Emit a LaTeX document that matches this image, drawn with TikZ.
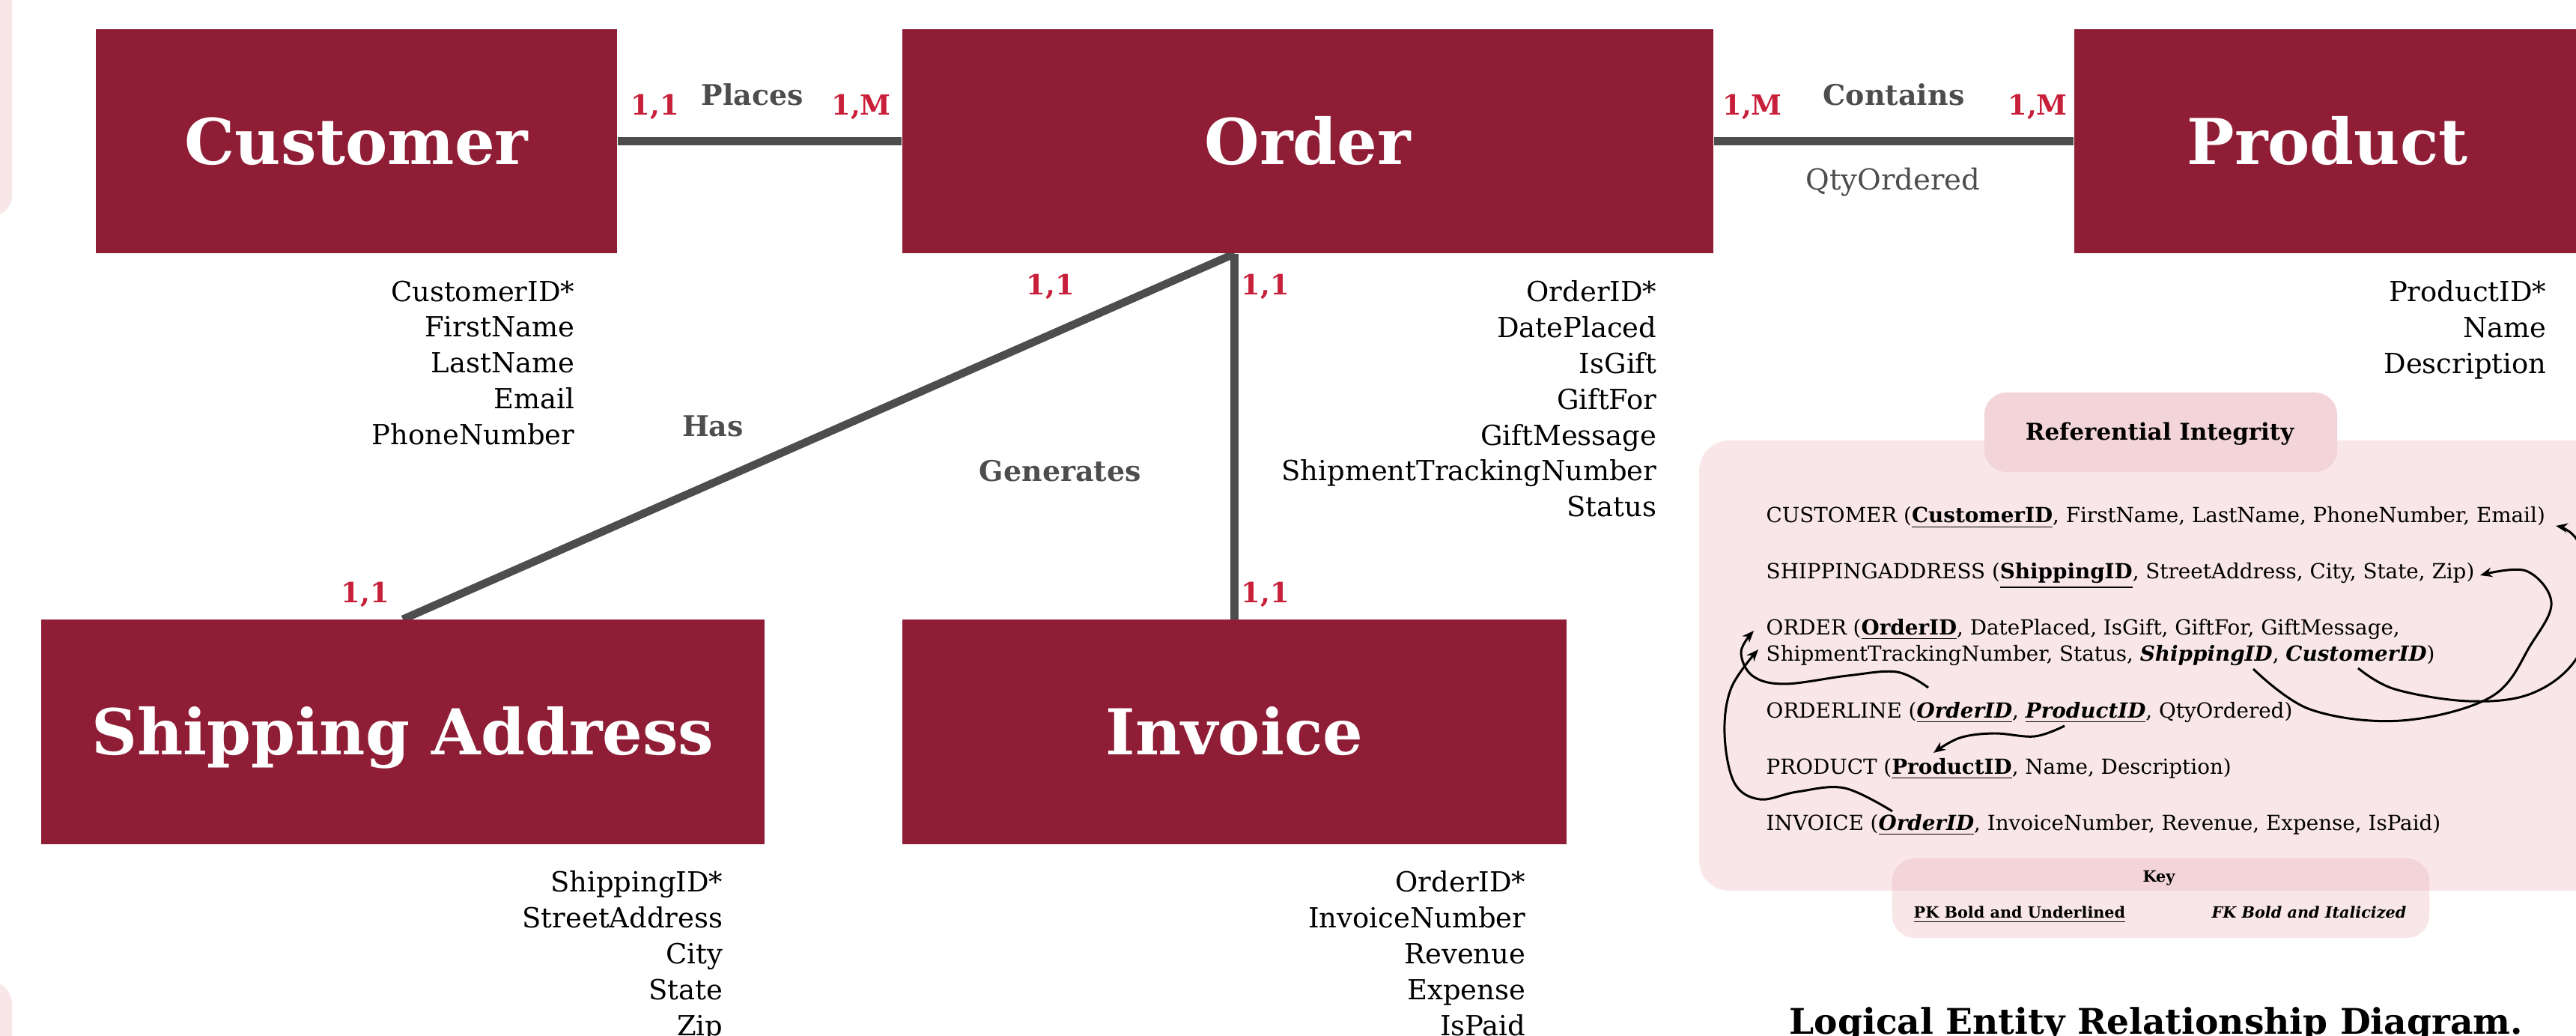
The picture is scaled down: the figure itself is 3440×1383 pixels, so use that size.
\documentclass[tikz,border=0pt]{standalone}
\usepackage{fontspec}
\setmainfont{DejaVu Serif}
\usepackage{xcolor}
\usetikzlibrary{positioning,arrows.meta,backgrounds}

\definecolor{maroon}{HTML}{8F1D36}
\definecolor{cardred}{HTML}{C8203A}
\definecolor{relgray}{HTML}{4D4D4D}
\definecolor{panelpink}{HTML}{F9E6E9}
\definecolor{tabpink}{HTML}{F2D4D9}
\definecolor{keypink}{RGB}{232,172,180}

% key markers used in the relational schema
\newcommand{\pk}[1]{\underline{\textbf{#1}}}
\newcommand{\fk}[1]{\textbf{\textit{#1}}}
\newcommand{\pkfk}[1]{\underline{\textbf{\textit{#1}}}}

\begin{document}
\begin{tikzpicture}[
            x=0.01cm, y=-0.01cm,
            entity/.style={fill=maroon, text=white, inner sep=0pt, minimum height=2.99cm,
                text height=17.5pt, text depth=0pt, font=\fontsize{24}{28}\selectfont\bfseries},
            card/.style={text=cardred, inner sep=0pt, anchor=base, font=\fontsize{10.5}{12}\selectfont\bfseries},
            rel/.style={text=relgray, inner sep=0pt, anchor=base, font=\fontsize{10.8}{13}\selectfont\bfseries},
            attr/.style={align=right, anchor=north east, inner sep=0pt, font=\fontsize{10.5}{13.6}\selectfont},
            link/.style={line width=3pt, draw=relgray},
            schema/.style={anchor=base west, inner sep=0pt, font=\fontsize{7.9}{10.2}\selectfont},
            keytext/.style={inner sep=0pt, font=\fontsize{5.9}{7}\selectfont},
            ref/.style={line width=0.85pt, -{Stealth[length=4.5pt, width=3.6pt]}},
            auto
        ]
            \useasboundingbox (0,0) rectangle (3440,1383);

            % Entities
            \node[entity, minimum width=6.96cm]  (customer) at (476,188.5)   {Customer};
            \node[entity, minimum width=10.83cm] (order)    at (1746.5,188.5) {Order};
            \node[entity, minimum width=6.76cm]  (product)  at (3108,188.5)  {Product};
            \node[entity, minimum width=9.66cm]  (shipping) at (538,977)     {Shipping Address};
            \node[entity, minimum width=8.87cm]  (invoice)  at (1648.5,977)  {Invoice};

            % Relationships (under the boxes)
            \begin{pgfonlayer}{background}
                \fill[panelpink, rounded corners=0.3cm] (-100,-100) rectangle (16,290);
                \fill[panelpink, rounded corners=0.3cm] (-100,1310) rectangle (16,1500);
                \draw[link] (customer) -- (order);   % Places
                \draw[link] (order) -- (product);    % Contains
                \draw[link] (invoice) -- (invoice |- order.south);        % Generates
                \draw[link] (shipping.north) -- (invoice |- order.south); % Has
            \end{pgfonlayer}

            % Cardinalities and verbs
            \node[card] (c1) at (875,154)  {1,1};
            \node[rel]  (places) at (1005,141) {Places};
            \node[card] (c2) at (1150,154) {1,M};
            \node[card] (c3) at (2340,154) {1,M};
            \node[rel]  (contains) at (2529,141) {Contains};
            \node[card] (c4) at (2721,154) {1,M};
            \node[rel, font=\fontsize{11}{13}\selectfont] (qty) at (2528,254) {QtyOrdered};
            \node[card] (c5) at (1403,394) {1,1};
            \node[card] (c6) at (1690,394) {1,1};
            \node[rel]  (has) at (952,583) {Has};
            \node[rel]  (generates) at (1416,643) {Generates};
            \node[card] (c7) at (488,805)  {1,1};
            \node[card] (c8) at (1690,805) {1,1};

            % Attributes
            \node[attr] (custattr)  at (768,374)   {CustomerID*\\FirstName\\LastName\\Email\\PhoneNumber};
            \node[attr] (orderattr) at (2213,374)  {OrderID*\\DatePlaced\\IsGift\\GiftFor\\GiftMessage\\ShipmentTrackingNumber\\Status};
            \node[attr] (prodattr)  at (3401,374)  {ProductID*\\Name\\Description};
            \node[attr] (shipattr)  at (966,1162)  {ShippingID*\\StreetAddress\\City\\State\\Zip};
            \node[attr] (invattr)   at (2038,1162) {OrderID*\\InvoiceNumber\\Revenue\\Expense\\IsPaid};

            % Referential integrity panel
            \fill[panelpink, rounded corners=0.4cm] (2269,588) rectangle (3560,1189);
            \node[fill=tabpink, rounded corners=0.3cm, minimum width=4.71cm, minimum height=1.06cm,
                inner sep=0pt] (reftab) at (2885.5,577) {};
            \node[inner sep=0pt, anchor=base, font=\fontsize{8.8}{10}\selectfont\bfseries]
                (reftitle) at (2884,588) {Referential Integrity};

            \node[schema] (rcust)   at (2358,698)  {CUSTOMER (\pk{CustomerID}, FirstName, LastName, PhoneNumber, Email)};
            \node[schema] (rship)   at (2358,773)  {SHIPPINGADDRESS (\pk{ShippingID}, StreetAddress, City, State, Zip)};
            \node[schema] (rorder)  at (2358,847)  {ORDER (\pk{OrderID}, DatePlaced, IsGift, GiftFor, GiftMessage,};
            \node[schema] (rorder2) at (2358,883)  {ShipmentTrackingNumber, Status, \fk{ShippingID}, \fk{CustomerID})};
            \node[schema] (rline)   at (2358,958)  {ORDERLINE (\pkfk{OrderID}, \pkfk{ProductID}, QtyOrdered)};
            \node[schema] (rprod)   at (2358,1033) {PRODUCT (\pk{ProductID}, Name, Description)};
            \node[schema] (rinv)    at (2358,1108) {INVOICE (\pkfk{OrderID}, InvoiceNumber, Revenue, Expense, IsPaid)};

            % ends of the reference arrows
            \coordinate (fkcust)    at (3149,892);
            \coordinate (pkcust)    at (3413,702);
            \coordinate (fkship)    at (3009,893);
            \coordinate (pkship)    at (3312,768);
            \coordinate (lineorder) at (2575,918);
            \coordinate (orderhead) at (2342,842);
            \coordinate (invorder)  at (2527,1083);
            \coordinate (ordertail) at (2348,867);
            \coordinate (lineprod)  at (2757,969);
            \coordinate (prodhead)  at (2582,1005);

            \draw[ref] plot[smooth, tension=0.6] coordinates {(fkcust) (3198,920) (3297,936) (3380,926) (3440,880) (3465,800) (3442,722) (pkcust)};
            \draw[ref] plot[smooth, tension=0.6] coordinates {(fkship) (3085,947) (3206,962) (3327,930) (3380,860) (3407,804) (3373,762) (pkship)};
            \draw[ref] plot[smooth, tension=0.6] coordinates {(lineorder) (2533,897) (2467,902) (2383,913) (2340,902) (2325,870) (orderhead)};
            \draw[ref] plot[smooth, tension=0.6] coordinates {(invorder) (2463,1052) (2400,1057) (2350,1067) (2316,1045) (2303,980) (2312,918) (ordertail)};
            \draw[ref] plot[smooth, tension=0.6] coordinates {(lineprod) (2717,983) (2663,979) (2617,985) (prodhead)};

            % Key
            \node[fill=keypink, fill opacity=0.3, rounded corners=0.3cm, minimum width=7.17cm,
                minimum height=1.06cm, inner sep=0pt] (keybox) at (2885.5,1199) {};
            \node[keytext, anchor=base, font=\fontsize{5.9}{7}\selectfont\bfseries] (keyhead) at (2883,1177) {Key};
            \node[keytext, anchor=base west] (pkkey) at (2555,1225) {\pk{PK Bold and Underlined}};
            \node[keytext, anchor=base east] (fkkey) at (3214,1225) {\fk{FK Bold and Italicized}};

            \node[anchor=base west, inner sep=0pt, font=\fontsize{13.4}{16}\selectfont\bfseries]
                (title) at (2389,1380) {Logical Entity Relationship Diagram.};
        \end{tikzpicture}
\end{document}
